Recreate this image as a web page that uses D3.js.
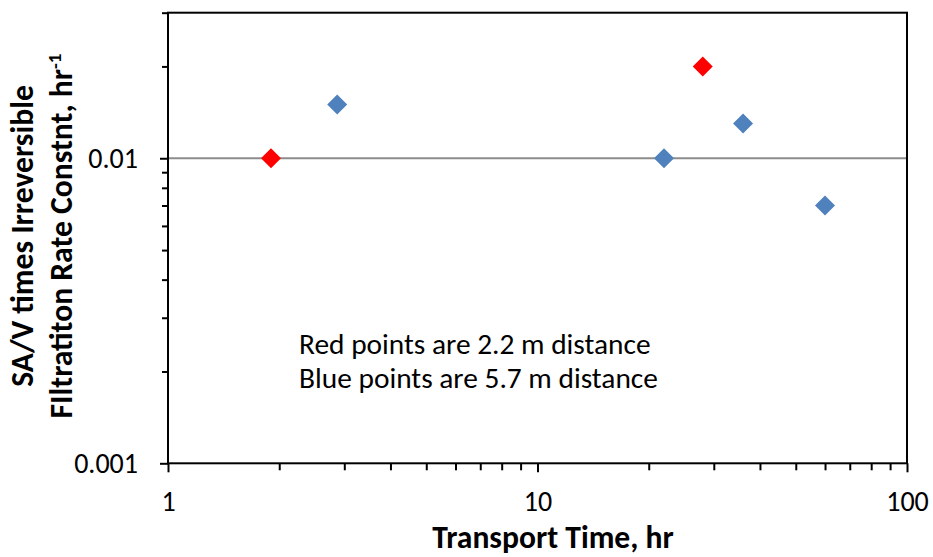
<!DOCTYPE html>
<html><head><meta charset="utf-8">
<script src="https://cdn.jsdelivr.net/npm/d3@7"></script>
<style>body{margin:0;background:#fff}svg{display:block}</style>
</head><body><svg id="c" width="933" height="557"></svg>
<script>
const redX = [1.9, 28];
const redY = [0.01, 0.02];
const blueX = [2.87, 22, 36, 60];
const blueY = [0.015, 0.01, 0.013, 0.007];
const xTickLabels = [1, 10, 100];
const yTickLabels = [0.001, 0.01];
const xTitle = "Transport Time, hr";
const yTitle1 = "SA/V times Irreversible";
const yTitle2 = "FIltratiton Rate Constnt, hr";
const notes = ["Red points are 2.2 m distance", "Blue points are 5.7 m distance"];

const svg = d3.select("#c");
const L = 168, R = 907, T = 12.7, B = 463.3;
const font = "Carlito, Calibri, Lato, sans-serif";
const x = d3.scaleLog().domain([1, 100]).range([L, R]);
const y = d3.scaleLog().domain([0.001, 0.03]).range([B, T]);

// gridline
svg.append("g").selectAll("line").data(yTickLabels.filter(v => v > 0.001)).join("line")
  .attr("x1", L).attr("x2", R).attr("y1", d => y(d)).attr("y2", d => y(d))
  .attr("stroke", "#8c8c8c").attr("stroke-width", 2);

// minor ticks
const xMinor = [];
for (let d = 1; d < 100; d *= 10) for (let k = 2; k <= 9; k++) xMinor.push(d * k);
const yMinor = [];
for (let d = 0.001; d < 0.03; d *= 10) for (let k = 2; k <= 9; k++) if (d * k <= 0.0300001) yMinor.push(d * k);

const xMinorAxis = d3.axisBottom(x).tickValues(xMinor).tickSize(7).tickFormat("");
const xMajorAxis = d3.axisBottom(x).tickValues(xTickLabels).tickSize(9).tickPadding(19).tickFormat(d3.format("d"));
const yMinorAxis = d3.axisLeft(y).tickValues(yMinor).tickSize(6).tickFormat("");
const yMajorAxis = d3.axisLeft(y).tickValues(yTickLabels).tickSize(8).tickPadding(22).tickFormat(d => String(d));

function styleAxis(g) {
  g.select(".domain").remove();
  g.selectAll("line").attr("stroke", "#000").attr("stroke-width", 2);
  g.selectAll("text").attr("font-family", font).attr("font-size", 28).attr("fill", "#000");
}
svg.append("g").attr("transform", `translate(0,${B})`).call(xMinorAxis).call(styleAxis);
svg.append("g").attr("transform", `translate(0,${B})`).call(xMajorAxis).call(styleAxis);
svg.append("g").attr("transform", `translate(${L},0)`).call(yMinorAxis).call(styleAxis);
svg.append("g").attr("transform", `translate(${L},0)`).call(yMajorAxis).call(styleAxis);

// frame
svg.append("rect").attr("x", L).attr("y", T).attr("width", R - L).attr("height", B - T)
  .attr("fill", "none").attr("stroke", "#000").attr("stroke-width", 2);

// points
const diamond = d3.symbol().type(d3.symbolSquare).size(200);
function pts(xs, ys, color) {
  svg.append("g").selectAll("path").data(xs.map((v, i) => [v, ys[i]])).join("path")
    .attr("d", diamond)
    .attr("transform", d => `translate(${x(d[0])},${y(d[1])}) rotate(45)`)
    .attr("fill", color);
}
pts(blueX, blueY, "#4f81bd");
pts(redX, redY, "#ff0000");

// annotation
svg.append("g").selectAll("text").data(notes).join("text")
  .attr("x", 299).attr("y", (d, i) => 354 + i * 34)
  .attr("font-family", font).attr("font-size", 29.4).attr("fill", "#000")
  .text(d => d);

// x title
svg.append("text").attr("x", 553).attr("y", 548)
  .attr("text-anchor", "middle").attr("font-family", font).attr("font-size", 31.6)
  .attr("font-weight", "bold").text(xTitle);

// y title
const yt = svg.append("text").attr("transform", `translate(0,236) rotate(-90)`)
  .attr("text-anchor", "middle").attr("font-family", font).attr("font-size", 31.6)
  .attr("font-weight", "bold");
yt.append("tspan").attr("x", 0).attr("y", 33).text(yTitle1);
const t2 = yt.append("tspan").attr("x", 0).attr("y", 72);
t2.append("tspan").text(yTitle2);
t2.append("tspan").attr("dy", -11).attr("font-size", 19).text("-1");
</script></body></html>
